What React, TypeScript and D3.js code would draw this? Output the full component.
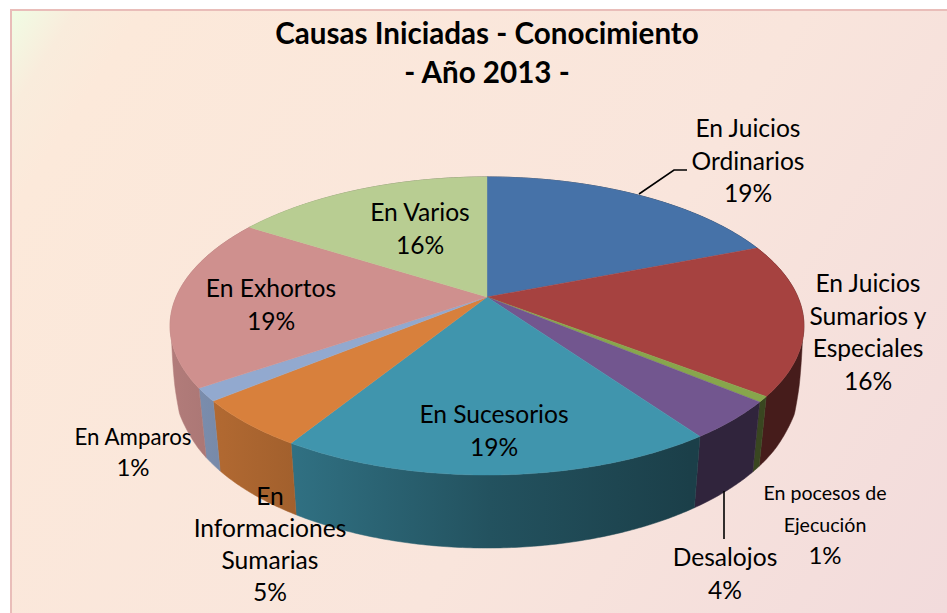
import React from "react";
import * as d3 from "d3";

const title = ["Causas Iniciadas - Conocimiento", "- Año 2013 -"];
const categories = [
  ["En Juicios", "Ordinarios"],
  ["En Juicios", "Sumarios y", "Especiales"],
  ["En pocesos de", "Ejecución"],
  ["Desalojos"],
  ["En Sucesorios"],
  ["En", "Informaciones", "Sumarias"],
  ["En Amparos"],
  ["En Exhortos"],
  ["En Varios"],
];
const percentLabels = ["19%", "16%", "1%", "4%", "19%", "5%", "1%", "19%", "16%"];
const values = [19.0, 16.4, 0.6, 4.15, 18.55, 5.2, 1.4, 18.55, 15.95];
const colors = ["#4672a8", "#a64240", "#87a64c", "#72568f", "#4095ad", "#d8803c", "#92a9cf", "#cf908e", "#b8cd92"];

// label layout: centre x, first baseline y, line step, name size, percent size
const labelLayout: [number, number, number, number, number][] = [
  [748, 137, 32.5, 24.6, 24.6],
  [868, 292, 32.5, 24.6, 24.6],
  [825, 500, 32, 19.6, 24],
  [725, 566, 32.5, 24.6, 24.6],
  [494, 423, 32.5, 24.6, 24.6],
  [270, 505, 32, 24.6, 24.6],
  [133, 445, 31, 22.3, 24],
  [271, 297, 33, 24.6, 24.6],
  [420, 221, 33, 24.6, 24.6],
];

const W = 947, H = 613;
const cx = 487, cy = 297;
const P = 0.1946, KY = 143.4, KX = 310.9;

const top = (a: number): [number, number] => {
  const u = Math.sin(a), v = -Math.cos(a), d = 1 - P * v;
  return [cx + (KX * u) / d, cy + (KY * v) / d];
};
// the lower rim: wall height and inward lean
const wallDepth = d3.scaleLinear().domain([300, 326, 340, 352, 378, 475]).range([0, 15, 45, 62, 69, 73]).clamp(true);
const wallLean = d3.scaleLinear().domain([326, 378, 475]).range([0.995, 0.975, 0.973]).clamp(true);
const bot = (a: number): [number, number] => {
  const [x, y] = top(a);
  return [cx + (x - cx) * wallLean(y), y + wallDepth(y)];
};
const samples = (a0: number, a1: number) => {
  const n = Math.max(2, Math.ceil((a1 - a0) / 0.01));
  return d3.range(n + 1).map((i) => a0 + ((a1 - a0) * i) / n);
};

const shadeX = [170, 295, 490, 690, 810];
const shadeF = [0.86, 0.75, 0.55, 0.42, 0.42];
const shade = d3.scaleLinear<number>().domain(shadeX).range(shadeF);
const shaded = (c: string, x: number) => {
  const r = d3.rgb(c), f = shade(x);
  return d3.rgb(r.r * f, r.g * f, r.b * f).formatHex();
};

const line = d3.line();

export default function App() {
  const arcs = d3.pie<number>().sort(null)(values);
  return (
    <svg
      width={W}
      height={H}
      viewBox={`0 0 ${W} ${H}`}
      style={{ position: "absolute", left: 0, top: 0, background: "#fff" }}
      fontFamily="Lato, Carlito, sans-serif"
    >
      <defs>
        <linearGradient id="bg" x1="10" y1="10" x2="947" y2="613" gradientUnits="userSpaceOnUse">
          <stop offset="0" stopColor="#f0fde4" />
          <stop offset="0.05" stopColor="#f9ecdc" />
          <stop offset="0.1" stopColor="#fce9da" />
          <stop offset="0.6" stopColor="#f9e5dc" />
          <stop offset="1" stopColor="#f2dbdc" />
        </linearGradient>
        {arcs.map((d, i) => (
          <linearGradient key={i} id={`wall${i}`} x1="170" y1="0" x2="810" y2="0" gradientUnits="userSpaceOnUse">
            {shadeX.map((x) => (
              <stop key={x} offset={(x - 170) / 640} stopColor={shaded(colors[i], x)} />
            ))}
          </linearGradient>
        ))}
      </defs>
      <rect x={11} y={10} width={W} height={H} fill="url(#bg)" stroke="#e9bdb9" strokeWidth={2} />

      {arcs.map((d, i) => {
        const s = samples(d.startAngle, d.endAngle);
        const pts = [...s.map(top), ...s.slice().reverse().map(bot)] as [number, number][];
        return <path key={i} d={line(pts)! + "Z"} fill={`url(#wall${i})`} stroke={`url(#wall${i})`} strokeWidth={0.5} />;
      })}
      {arcs.map((d, i) => {
        const pts = [[cx, cy], ...samples(d.startAngle, d.endAngle).map(top)] as [number, number][];
        return <path key={i} d={line(pts)! + "Z"} fill={colors[i]} stroke={colors[i]} strokeWidth={0.4} />;
      })}

      <polyline points="639,194 674,170 687,170" fill="none" stroke="#000" strokeWidth={1.6} />
      <line x1={724} y1={491} x2={724} y2={539} stroke="#000" strokeWidth={1.6} />

      <g textAnchor="middle" fontWeight={700} fontSize={29.6} fill="#000">
        {title.map((t, i) => (
          <text key={i} x={487} y={44 + i * 39}>{t}</text>
        ))}
      </g>
      <g textAnchor="middle" fill="#000">
        {categories.map((lines, i) => {
          const [x, y, step, fs, pfs] = labelLayout[i];
          return (
            <g key={i}>
              {lines.map((t, j) => (
                <text key={j} x={x} y={y + j * step} fontSize={fs}>{t}</text>
              ))}
              <text x={x} y={y + lines.length * step} fontSize={pfs}>{percentLabels[i]}</text>
            </g>
          );
        })}
      </g>
    </svg>
  );
}
